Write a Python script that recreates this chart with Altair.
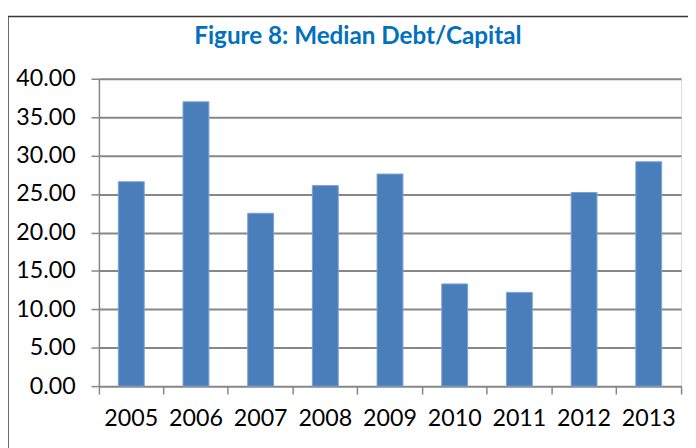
import altair as alt
import pandas as pd

years = ["2005", "2006", "2007", "2008", "2009", "2010", "2011", "2012", "2013"]
values = [26.6, 37.0, 22.5, 26.1, 27.6, 13.3, 12.2, 25.2, 29.2]
title_text = ["Figure 8: Median Debt/Capital"]

df = pd.DataFrame({"year": years, "value": values})
tdf = pd.DataFrame({"t": title_text})

FONT = "Lato"
GRID = "#878787"

bars = alt.Chart(df).mark_bar(
    color="#4A7EBB", stroke="#7AA3D6", strokeWidth=1, width={"band": 0.4}
).encode(
    x=alt.X(
        "year:N",
        sort=years,
        title=None,
        scale=alt.Scale(paddingInner=0, paddingOuter=0),
        axis=alt.Axis(
            labelAngle=0,
            labelFont=FONT,
            labelFontSize=23.5,
            labelColor="#000000",
            labelPadding=13,
            tickSize=8,
            tickColor=GRID,
            tickWidth=1.5,
            bandPosition=1,
            tickExtra=True,
            domainColor=GRID,
            domainWidth=1.5,
            grid=False,
        ),
    ),
    y=alt.Y(
        "value:Q",
        title=None,
        scale=alt.Scale(domain=[0, 40]),
        axis=alt.Axis(
            values=[0, 5, 10, 15, 20, 25, 30, 35, 40],
            format=".2f",
            labelFont=FONT,
            labelFontSize=23.5,
            labelColor="#000000",
            labelPadding=16,
            tickSize=8,
            tickColor=GRID,
            tickWidth=1.5,
            domainColor=GRID,
            domainWidth=1.5,
            gridColor=GRID,
            gridWidth=2,
            gridOpacity=1,
        ),
    ),
)

frame = alt.Chart(tdf).mark_rect(
    fill=None, stroke="#383838", strokeWidth=1.5, clip=False
).encode(
    x=alt.value(-92), x2=alt.value(640), y=alt.value(-63), y2=alt.value(420)
)

title = alt.Chart(tdf).mark_text(
    font=FONT,
    fontSize=24.5,
    fontWeight="bold",
    color="#0070C0",
    align="center",
    baseline="alphabetic",
    clip=False,
).encode(
    text="t:N", x=alt.value(262), y=alt.value(-35)
)

chart = alt.layer(frame, bars, title).properties(
    width=589,
    height=311,
    autosize=alt.AutoSizeParams(type="none"),
    padding={"left": 92, "top": 69, "right": 7, "bottom": 60},
).configure_view(stroke=None).configure(background="white")

chart.save("out.html", embed_options={"renderer": "svg", "actions": False})
